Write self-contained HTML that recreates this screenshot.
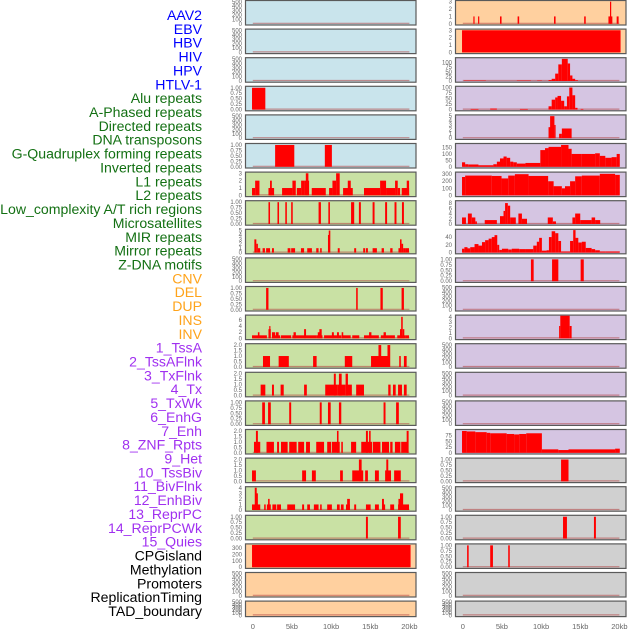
<!DOCTYPE html>
<html><head><meta charset="utf-8">
<style>
html,body{margin:0;padding:0;background:#fff;}
svg{display:block;font-family:"Liberation Sans",sans-serif;}
</style></head>
<body>
<svg id="chart" width="630" height="630" viewBox="0 0 630 630" xmlns="http://www.w3.org/2000/svg"></svg>
<script>
// ---------- data ----------
const trackLabels = ["AAV2","EBV","HBV","HIV","HPV","HTLV-1","Alu repeats","A-Phased repeats","Directed repeats","DNA transposons","G-Quadruplex forming repeats","Inverted repeats","L1 repeats","L2 repeats","Low_complexity A/T rich regions","Microsatellites","MIR repeats","Mirror repeats","Z-DNA motifs","CNV","DEL","DUP","INS","INV","1_TssA","2_TssAFlnk","3_TxFlnk","4_Tx","5_TxWk","6_EnhG","7_Enh","8_ZNF_Rpts","9_Het","10_TssBiv","11_BivFlnk","12_EnhBiv","13_ReprPC","14_ReprPCWk","15_Quies","CPGisland","Methylation","Promoters","ReplicationTiming","TAD_boundary"];
const labelGroups = ["v","v","v","v","v","v","r","r","r","r","r","r","r","r","r","r","r","r","r","s","s","s","s","s","c","c","c","c","c","c","c","c","c","c","c","c","c","c","c","o","o","o","o","o"];
const xTickValues = [0,5,10,15,20];
const xTickLabels = ["0","5kb","10kb","15kb","20kb"];
const ticksEmpty = [0,100,200,300,400,500];
const ticksBin = [0,0.25,0.5,0.75,1];
const ticks3 = [0,1,2,3];
const ticks5 = [0,1,2,3,4,5];
const ticks6 = [0,2,4,6];
const ticks2 = [0,0.5,1,1.5,2];
const ticks4 = [0,1,2,3,4];
const ticks300 = [0,100,200,300];
const ticks100 = [0,25,50,75,100];
const ticks150 = [0,50,100,150];
const ticks8 = [0,2,4,6,8];
const ticks40 = [0,20,40];
const ticks75 = [0,25,50,75];

// segments: [startKb, endKb, value]
const left3 = [[-0.1,1.6,1]];
const left5 = [[2.85,5.3,1],[9.2,10.1,1]];
const left6 = [[-0.1,0.3,1],[0.3,0.85,2],[2.0,2.72,1],[2.2,2.43,2],[3.74,5.06,1],[5.06,5.49,2],[5.62,6.17,1],[6.17,6.55,2],[6.55,7.19,2],[6.77,7.1,3],[7.53,9.32,1],[9.74,10.17,1],[10.17,10.64,2],[10.64,11.1,3],[11.53,12.77,1],[12.13,12.51,2],[14.2,16.26,1],[16.26,17.02,2],[17.02,18.17,1],[18.17,18.51,2],[18.51,18.81,1],[19.02,19.96,1],[19.66,19.96,2]];
const left7 = [[2.0,2.2,1],[3.15,3.35,1],[4.15,4.35,1],[4.9,5.1,1],[8.4,8.7,1],[9.65,9.85,1],[12.55,12.95,1],[13.55,13.8,1],[15.3,15.55,1],[16.9,17.15,1],[18.1,18.35,1],[19.05,19.3,1]];
const left8 = [[0.2,0.45,3],[0.45,0.65,2],[0.65,0.95,1],[1.25,1.55,1],[1.7,2.2,1],[2.45,2.7,1],[4.45,4.8,1],[4.9,5.4,1],[6.15,6.55,1],[6.95,7.55,1],[8.1,8.4,1],[8.6,8.8,1],[9.6,9.7,4],[9.7,9.9,5],[10.85,11.1,1],[12.95,13.2,1],[14.1,14.35,1],[14.45,14.7,1],[15.3,15.85,1],[16.45,16.75,1],[17.55,17.85,1],[18.6,18.8,1],[18.8,19.0,3],[19.0,19.2,2],[19.2,19.45,1],[19.45,19.95,1]];
const left10 = [[1.7,2.0,1],[13.2,13.4,1],[16.3,16.6,1],[19.0,19.3,1]];
const left11 = [[-0.1,1.8,1],[0.65,0.85,2],[2.0,2.3,3],[2.1,2.25,4],[2.45,2.85,2],[2.95,3.3,2],[2.45,3.5,1],[3.6,4.9,1],[5.05,8.15,1],[5.2,5.5,2],[6.55,6.8,3],[8.3,8.6,2],[8.5,8.8,3],[8.15,8.9,1],[9.1,11.3,1],[10.1,10.35,2],[10.75,11.0,2],[11.35,11.55,2],[11.35,12.5,1],[12.7,13.6,1],[14.2,16.1,1],[14.85,15.15,2],[16.35,18.15,1],[16.7,17.0,2],[18.45,19.45,1],[18.8,19.0,3],[18.95,19.15,7],[19.15,19.35,3],[19.45,19.95,1]];
const left12 = [[1.3,2.2,1],[3.3,4.6,1],[7.7,8.15,1],[11.75,12.7,1],[15.1,17.45,1],[16.05,16.4,2],[17.2,17.55,2],[18.7,18.9,1],[19.3,19.65,1]];
const left13 = [[1.0,1.6,1],[2.45,2.7,1],[3.55,3.95,1],[6.55,6.9,1],[9.25,10.8,1],[10.35,10.6,2],[10.8,11.8,1],[11.0,11.35,2],[11.85,12.15,2],[11.8,12.65,1],[13.2,14.2,1],[17.3,17.6,1],[17.9,18.25,1],[18.55,19.05,1],[19.3,19.65,1]];
const left14 = [[1.2,1.55,1],[1.95,2.3,1],[4.65,4.9,1],[8.55,8.8,1],[9.6,9.95,1],[11.0,11.3,1],[16.7,16.95,1],[18.3,18.65,1]];
const left15 = [[0.15,0.95,1],[0.4,0.65,2],[1.75,2.7,1],[3.1,3.35,1],[3.6,4.45,1],[4.65,5.6,1],[5.8,6.55,1],[6.8,7.3,1],[8.1,9.1,1],[9.5,10.0,1],[10.1,11.1,1],[10.75,10.95,2],[11.3,11.5,1],[12.55,13.2,1],[13.85,15.25,1],[14.45,14.7,2],[14.85,15.05,2],[15.35,16.3,1],[16.5,17.4,1],[17.55,17.85,1],[18.15,18.85,1],[18.95,19.85,1],[19.65,19.9,2]];
const left16 = [[-0.1,0.4,1],[6.3,6.8,1],[7.55,8.05,1],[11.15,11.5,1],[12.7,14.1,1],[13.55,13.9,2],[14.35,14.7,1],[15.6,16.1,1],[16.9,17.65,1],[17.05,17.3,2],[18.05,18.9,1]];
const left17 = [[-0.1,0.15,1],[0.25,0.5,4],[0.4,0.65,3],[0.15,0.95,1],[1.45,1.65,1],[1.8,2.3,1],[1.95,2.15,2],[2.5,3.0,1],[3.1,3.6,1],[4.4,5.4,1],[6.3,6.55,1],[6.95,7.3,1],[7.8,8.4,1],[8.6,8.8,1],[9.5,10.1,1],[10.75,11.1,1],[11.25,11.6,1],[11.9,12.4,1],[12.05,12.4,2],[12.95,13.2,1],[14.45,15.05,1],[15.6,16.1,1],[16.5,16.9,1],[16.5,16.75,2],[17.55,18.05,1],[18.55,19.95,1],[18.6,19.0,2],[18.8,19.2,3]];
const left18 = [[14.45,14.7,1],[18.55,18.9,1]];
const left19 = [[-0.1,20.15,350]];

const right0 = [[1.35,1.5,1],[1.95,2.1,1],[4.75,4.95,1],[7.0,7.2,1],[11.65,11.85,1],[15.5,15.7,1],[18.6,19.1,1],[18.8,18.95,3],[19.65,19.9,1]];
const right1 = [[-0.1,20.15,3]];
const right2 = [[0.15,2.95,2],[6.9,8.7,2],[9.5,10.1,2],[10.95,11.35,5],[11.35,11.8,12],[11.8,12.2,40],[12.2,12.65,90],[12.65,13.4,120],[13.4,13.7,95],[13.7,14.0,30],[14.0,14.35,12],[14.35,14.7,4]];
const right3 = [[1.0,2.0,3],[3.5,4.35,5],[7.3,8.3,3],[10.95,11.35,15],[11.35,11.8,45],[11.8,12.1,55],[12.1,12.55,62],[12.55,12.95,40],[12.95,13.3,15],[13.3,13.6,60],[13.6,14.0,100],[14.0,14.35,65],[14.35,14.65,8],[15.05,15.4,3]];
const right4 = [[10.95,11.2,2.5],[11.15,11.7,5],[11.7,11.8,3],[12.3,12.65,1],[12.65,13.9,2.2]];
const right5 = [[-0.1,0.3,35],[0.3,0.7,20],[0.7,2.0,18],[2.0,3.9,12],[3.9,4.35,20],[4.35,4.75,40],[4.75,5.2,65],[5.2,5.6,80],[5.6,6.05,70],[6.05,6.45,40],[6.45,6.9,35],[6.9,8.0,25],[8.0,9.9,30],[9.9,10.5,130],[10.5,10.95,145],[10.95,12.55,155],[12.55,13.5,170],[13.5,13.9,140],[13.9,15.2,100],[15.2,16.9,100],[16.9,17.5,105],[17.5,18.2,85],[18.2,19.0,70],[19.0,19.65,75],[19.65,20.05,100]];
const right6 = [[-0.1,0.3,260],[0.3,3.7,280],[3.7,4.95,275],[4.95,5.8,240],[5.8,6.65,280],[6.65,8.4,300],[8.4,10.9,275],[10.9,11.6,200],[11.6,12.65,130],[12.65,13.05,100],[13.05,13.7,130],[13.7,14.35,200],[14.35,15.2,270],[15.2,17.5,280],[17.5,19.45,305],[19.45,20.05,290]];
const right7 = [[-0.1,0.4,2.5],[0.65,1.15,4],[1.15,1.6,2.5],[1.6,1.8,1],[2.8,4.35,1.5],[4.75,5.2,3],[5.2,5.4,5],[5.4,5.75,8],[5.75,6.05,7],[6.05,6.77,2.5],[7.1,7.55,4],[7.55,8.2,2],[10.85,11.5,2.5],[11.5,11.9,1],[14.0,14.35,2.5],[14.35,15.0,4],[15.0,16.45,1.5],[16.45,16.9,2.5],[16.9,17.55,1.5]];
const right8 = [[-0.1,0.2,10],[0.2,0.6,14],[0.6,0.95,11],[0.95,1.5,14],[1.5,2.0,22],[2.0,2.45,18],[2.45,2.85,27],[2.85,3.3,32],[3.3,3.7,36],[3.7,4.05,40],[4.05,4.4,45],[4.4,4.65,20],[4.65,5.0,7],[5.0,5.8,10],[5.8,6.25,8],[6.25,7.2,10],[7.2,7.95,9],[7.95,9.0,9],[9.0,9.45,18],[9.45,9.75,28],[9.75,10.1,38],[10.1,10.7,5],[10.7,11.0,6],[11.0,11.35,40],[11.35,11.8,55],[11.8,12.2,50],[12.2,12.55,30],[12.55,13.7,3],[13.7,14.1,30],[14.1,14.4,58],[14.4,14.75,38],[14.75,15.2,26],[15.2,15.7,28],[15.7,16.45,12],[16.45,16.9,9],[16.9,17.5,6],[17.5,18.2,3],[18.2,20.05,3]];
const right9 = [[8.7,9.05,1],[11.4,12.2,1],[15.05,15.45,1]];
const right11 = [[12.3,12.45,2.3],[12.45,13.65,4.2],[13.65,13.9,2.3]];
const right15 = [[-0.1,0.5,95],[0.5,1.6,93],[1.6,3.05,90],[3.05,3.5,87],[3.5,5.6,85],[5.6,6.55,82],[6.55,7.2,80],[7.2,8.1,82],[8.1,10.1,85],[10.1,12.2,15],[12.2,13.5,12],[13.5,19.45,15],[19.45,20.05,18]];
const right16 = [[12.55,13.5,1]];
const right18 = [[12.8,13.3,1],[16.75,17.0,1]];
const right19 = [[0.55,0.75,1],[3.5,3.85,1],[5.8,6.0,1]];

// panels: [background, domainMax, ticks, series, tickFmt]
const leftPanels = [
 ["blue",510,ticksEmpty,[],0],["blue",510,ticksEmpty,[],0],["blue",510,ticksEmpty,[],0],
 ["blue",1.03,ticksBin,left3,2],["blue",510,ticksEmpty,[],0],["blue",1.03,ticksBin,left5,2],
 ["green",3.05,ticks3,left6,0],["green",1.03,ticksBin,left7,2],["green",5.1,ticks5,left8,0],
 ["green",510,ticksEmpty,[],0],["green",1.03,ticksBin,left10,2],["green",7.3,ticks6,left11,0],
 ["green",2.05,ticks2,left12,1],["green",2.05,ticks2,left13,1],["green",1.03,ticksBin,left14,2],
 ["green",2.05,ticks2,left15,1],["green",2.05,ticks2,left16,1],["green",4.05,ticks4,left17,0],
 ["green",1.03,ticksBin,left18,2],["orange",355,ticks300,left19,0],["orange",510,ticksEmpty,[],0],["orange",510,ticksEmpty,[],0]
];
const rightPanels = [
 ["orange",3.05,ticks3,right0,0],["orange",3.05,ticks3,right1,0],["purple",122,ticks100,right2,0],
 ["purple",102,ticks100,right3,0],["purple",5.1,ticks5,right4,0],["purple",175,ticks150,right5,0],
 ["purple",318,ticks300,right6,0],["purple",8.6,ticks8,right7,0],["purple",58,ticks40,right8,0],
 ["purple",1.03,ticksBin,right9,2],["purple",510,ticksEmpty,[],0],["purple",4.17,ticks4,right11,0],
 ["purple",510,ticksEmpty,[],0],["purple",510,ticksEmpty,[],0],["purple",510,ticksEmpty,[],0],
 ["purple",98,ticks75,right15,0],["gray",1.03,ticksBin,right16,2],["gray",510,ticksEmpty,[],0],
 ["gray",1.03,ticksBin,right18,2],["gray",1.03,ticksBin,right19,2],["gray",510,ticksEmpty,[],0],["gray",510,ticksEmpty,[],0]
];

// ---------- drawing ----------
const NS = "http://www.w3.org/2000/svg";
const svg = document.getElementById("chart");
const bgColors = {blue:"#c9e4ec",green:"#c9e1a4",orange:"#ffd09f",purple:"#d5c5e2",gray:"#d0d0d0"};
const labelColors = {v:"#0000ff",r:"#137013",s:"#ffa31a",c:"#a030f0",o:"#000000"};
function mk(tag, attrs, parent){
  const e = document.createElementNS(NS, tag);
  for (const k in attrs) e.setAttribute(k, attrs[k]);
  (parent||svg).appendChild(e);
  return e;
}
const colX = [{left:245.5,right:416,zero:252.8,tickX:242},{left:455.5,right:626,zero:462.8,tickX:452}];
const kbPx = 7.83;
function panelTop(i){ return 0.5 + i*28.6; }
function panelH(i){ return i===21 ? 15.5 : 24.5; }

// labels
trackLabels.forEach((t,k)=>{
  const e = mk("text",{x:202,y:20+k*13.86,"text-anchor":"end","font-size":"14.1",fill:labelColors[labelGroups[k]]});
  e.textContent = t;
  
  
});

function drawColumn(panels, c, side){
  const col = colX[c];
  const xs = v => col.zero + v*kbPx;
  panels.forEach((p,i)=>{
    const [bg,dmax,ticks,series,fmt] = p;
    const top = panelTop(i), h = panelH(i);
    const g = mk("g",{});
    
    
    mk("rect",{x:col.left,y:top,width:col.right-col.left,height:h,fill:bgColors[bg],stroke:"#5a5a5a","stroke-width":1.2},g);
    const y0 = top + h - 1.2, y1 = top + 0.8;
    const ys = v => y0 - (v/dmax)*(y0-y1);
    mk("line",{x1:xs(0),x2:xs(20),y1:y0-0.5,y2:y0-0.5,stroke:"#b04040","stroke-opacity":0.55,"stroke-width":1.2},g);
    series.forEach(s=>{
      const r = mk("rect",{x:xs(s[0]),y:ys(s[2]),width:Math.max(xs(s[1])-xs(s[0]),1.2),height:y0-ys(s[2]),fill:"#ff0000"},g);
      
      
    });
    ticks.forEach(t=>{
      const e = mk("text",{x:col.tickX,y:ys(t)+2,"text-anchor":"end","font-size":"6",fill:"#666"},g);
      e.textContent = t.toFixed(fmt);
      
      
    });
  });
  xTickValues.forEach((v,j)=>{
    const e = mk("text",{x:xs(v),y:629,"text-anchor":"middle","font-size":"7.5",fill:"#666"});
    e.textContent = xTickLabels[j];
    
    
  });
}
drawColumn(leftPanels,0,"left");
drawColumn(rightPanels,1,"right");
</script>
</body></html>
